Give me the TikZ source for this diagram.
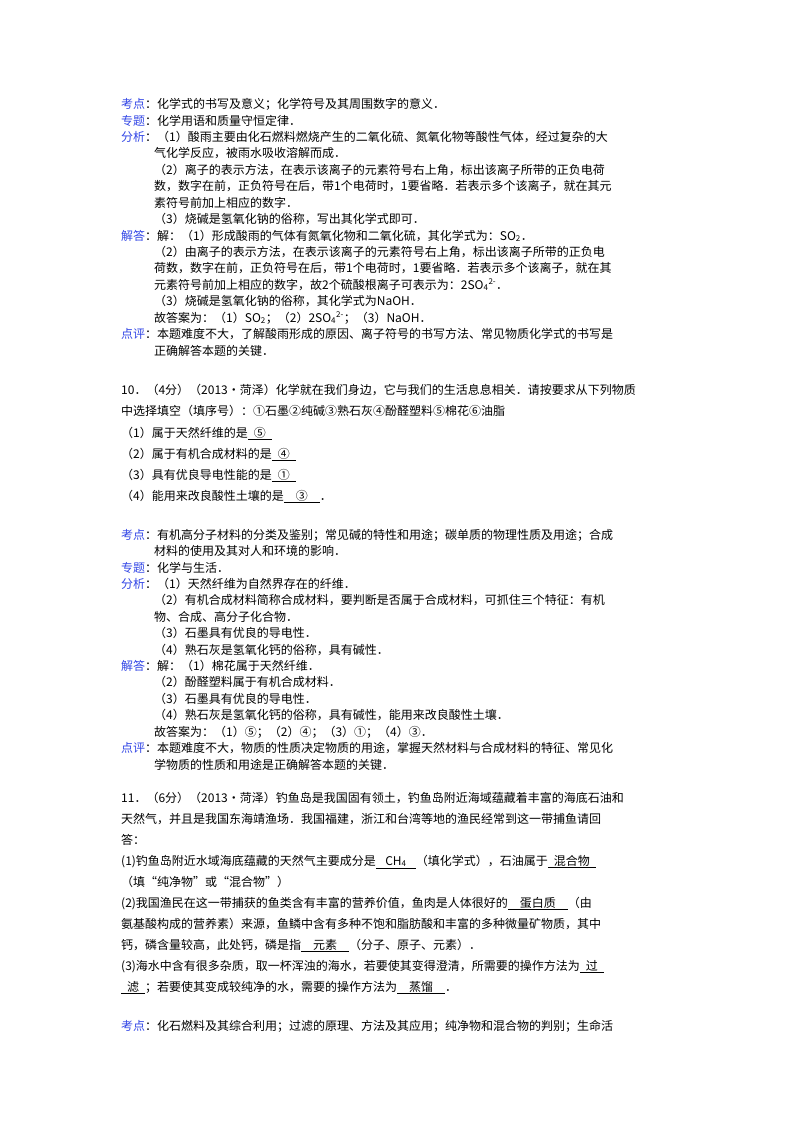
\documentclass[tikz,border=0pt]{standalone}
\usepackage{fontspec}
\setmainfont{Noto Sans CJK SC}
\definecolor{lab}{RGB}{50,70,230}
\newcommand\lb[1]{\textcolor{lab}{#1}}
\newcommand\bk[2]{\underline{\makebox[#1][c]{#2}}}
\newcommand\sulf{SO\textsubscript{4}\textsuperscript{2-}}
\tikzset{ln/.style={anchor=base west,inner sep=0pt,font=\fontsize{12}{14}\selectfont}}
\begin{document}
\begin{tikzpicture}[x=1pt,y=-1pt]
\useasboundingbox (0,0) rectangle (800,1132);
\fill[white] (0,0) rectangle (800,1132);
% block 1
\node[ln] (a1) at (121,108) {\lb{考点}：化学式的书写及意义；化学符号及其周围数字的意义．};
\node[ln] (a2) at (121,125) {\lb{专题}：化学用语和质量守恒定律．};
\node[ln] (a3) at (121,141) {\lb{分析}：（1）酸雨主要由化石燃料燃烧产生的二氧化硫、氮氧化物等酸性气体，经过复杂的大};
\node[ln] (a4) at (154,157) {气化学反应，被雨水吸收溶解而成．};
\node[ln] (a5) at (154,174) {（2）离子的表示方法，在表示该离子的元素符号右上角，标出该离子所带的正负电荷};
\node[ln] (a6) at (154,190) {数，数字在前，正负符号在后，带1个电荷时，1要省略．若表示多个该离子，就在其元};
\node[ln] (a7) at (154,207) {素符号前加上相应的数字．};
\node[ln] (a8) at (154,223) {（3）烧碱是氢氧化钠的俗称，写出其化学式即可．};
\node[ln] (a9) at (121,240) {\lb{解答}：解：（1）形成酸雨的气体有氮氧化物和二氧化硫，其化学式为：SO\textsubscript{2}．};
\node[ln] (a10) at (154,256) {（2）由离子的表示方法，在表示该离子的元素符号右上角，标出该离子所带的正负电};
\node[ln] (a11) at (154,272) {荷数，数字在前，正负符号在后，带1个电荷时，1要省略．若表示多个该离子，就在其};
\node[ln] (a12) at (154,289) {元素符号前加上相应的数字，故2个硫酸根离子可表示为：2\sulf．};
\node[ln] (a13) at (154,305) {（3）烧碱是氢氧化钠的俗称，其化学式为NaOH．};
\node[ln] (a14) at (154,322) {故答案为：（1）SO\textsubscript{2}；（2）2\sulf；（3）NaOH．};
\node[ln] (a15) at (121,338) {\lb{点评}：本题难度不大，了解酸雨形成的原因、离子符号的书写方法、常见物质化学式的书写是};
\node[ln] (a16) at (154,355) {正确解答本题的关键．};
% block 2
\node[ln] (b1) at (121,394) {10．（4分）（2013•菏泽）化学就在我们身边，它与我们的生活息息相关．请按要求从下列物质};
\node[ln] (b2) at (121,415) {中选择填空（填序号）：①石墨②纯碱③熟石灰④酚醛塑料⑤棉花⑥油脂};
\node[ln] (b3) at (121,437) {（1）属于天然纤维的是\bk{24pt}{⑤}};
\node[ln] (b4) at (121,458) {（2）属于有机合成材料的是\bk{24pt}{④}};
\node[ln] (b5) at (121,479) {（3）具有优良导电性能的是\bk{24pt}{①}};
\node[ln] (b6) at (121,500) {（4）能用来改良酸性土壤的是\bk{36pt}{③}．};
\node[ln] (b7) at (121,539) {\lb{考点}：有机高分子材料的分类及鉴别；常见碱的特性和用途；碳单质的物理性质及用途；合成};
\node[ln] (b8) at (154,555) {材料的使用及其对人和环境的影响．};
\node[ln] (b9) at (121,572) {\lb{专题}：化学与生活．};
\node[ln] (b10) at (121,588) {\lb{分析}：（1）天然纤维为自然界存在的纤维．};
\node[ln] (b11) at (154,604) {（2）有机合成材料简称合成材料，要判断是否属于合成材料，可抓住三个特征：有机};
\node[ln] (b12) at (154,621) {物、合成、高分子化合物．};
\node[ln] (b13) at (154,637) {（3）石墨具有优良的导电性．};
\node[ln] (b14) at (154,654) {（4）熟石灰是氢氧化钙的俗称，具有碱性．};
\node[ln] (b15) at (121,670) {\lb{解答}：解：（1）棉花属于天然纤维．};
\node[ln] (b16) at (154,686) {（2）酚醛塑料属于有机合成材料．};
\node[ln] (b17) at (154,703) {（3）石墨具有优良的导电性．};
\node[ln] (b18) at (154,719) {（4）熟石灰是氢氧化钙的俗称，具有碱性，能用来改良酸性土壤．};
\node[ln] (b19) at (154,736) {故答案为：（1）⑤；（2）④；（3）①；（4）③．};
\node[ln] (b20) at (121,752) {\lb{点评}：本题难度不大，物质的性质决定物质的用途，掌握天然材料与合成材料的特征、常见化};
\node[ln] (b21) at (154,769) {学物质的性质和用途是正确解答本题的关键．};
% block 3
\node[ln] (c1) at (121,802) {11．（6分）（2013•菏泽）钓鱼岛是我国固有领土，钓鱼岛附近海域蕴藏着丰富的海底石油和};
\node[ln] (c2) at (121,823) {天然气，并且是我国东海靖渔场．我国福建，浙江和台湾等地的渔民经常到这一带捕鱼请回};
\node[ln] (c3) at (121,844) {答：};
\node[ln] (c4) at (121,865) {(1)钓鱼岛附近水域海底蕴藏的天然气主要成分是\bk{40pt}{CH\textsubscript{4}}（填化学式），石油属于\bk{48pt}{混合物}};
\node[ln] (c5) at (121,886) {（填“纯净物”或“混合物”）};
\node[ln] (c6) at (121,907) {(2)我国渔民在这一带捕获的鱼类含有丰富的营养价值，鱼肉是人体很好的\bk{60pt}{蛋白质}（由};
\node[ln] (c7) at (121,928) {氨基酸构成的营养素）来源，鱼鳞中含有多种不饱和脂肪酸和丰富的多种微量矿物质，其中};
\node[ln] (c8) at (121,949) {钙，磷含量较高，此处钙，磷是指\bk{48pt}{元素}（分子、原子、元素）．};
\node[ln] (c9) at (121,970) {(3)海水中含有很多杂质，取一杯浑浊的海水，若要使其变得澄清，所需要的操作方法为\bk{24pt}{过}};
\node[ln] (c10) at (121,991) {\bk{24pt}{滤}；若要使其变成较纯净的水，需要的操作方法为\bk{48pt}{蒸馏}．};
\node[ln] (c11) at (121,1030) {\lb{考点}：化石燃料及其综合利用；过滤的原理、方法及其应用；纯净物和混合物的判别；生命活};
\end{tikzpicture}
\end{document}
